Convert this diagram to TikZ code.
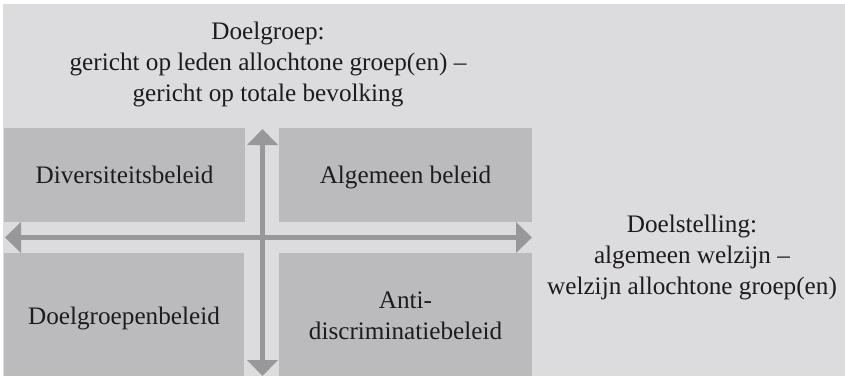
\documentclass[tikz,border=0pt]{standalone}
\usepackage{fontspec}
\setmainfont{Liberation Serif}
\usetikzlibrary{arrows.meta}
\definecolor{bgc}{HTML}{DCDCDE}
\definecolor{boxc}{HTML}{BBBBBD}
\definecolor{arrc}{HTML}{98989A}
\definecolor{inkc}{HTML}{1E1B1C}
\begin{document}
\begin{tikzpicture}[x=1pt,y=-1pt,
  quad/.style={fill=boxc, draw=none, inner sep=0pt, rectangle},
  lbl/.style={inner sep=0pt, align=center, text=inkc, font=\fontsize{25.2}{31}\selectfont},
  axisline/.style={draw=arrc, {Triangle[length=16pt,width=30pt]}-{Triangle[length=16pt,width=30pt]}}]
\useasboundingbox (0,0) rectangle (845,376);
\fill[white] (0,0) rectangle (845,376);
\fill[bgc] (3,4) rectangle (845,376);
% quadrants
\node[quad, minimum width=241pt, minimum height=94pt] (qdiv) at (124.5,175) {};
\node[quad, minimum width=253pt, minimum height=94pt] (qalg) at (405.5,175) {};
\node[quad, minimum width=240pt, minimum height=123pt] (qdoel) at (124,314.5) {};
\node[quad, minimum width=253pt, minimum height=123pt] (qanti) at (405.5,314.5) {};
% quadrant texts
\node[lbl] (tdiv) at (qdiv.center) [yshift=-2.1pt] {\strut Diversiteitsbeleid};
\node[lbl] (talg) at (qalg.center) [yshift=-2.1pt] {\strut Algemeen beleid};
\node[lbl] (tdoel) at (qdoel.center) [yshift=-3.6pt] {\strut Doelgroepenbeleid};
\node[lbl] (tanti) at (qanti.center) [yshift=-3.1pt] {\strut Anti-\\\strut discriminatiebeleid};
% axes
\coordinate (hl) at (5,237.5);
\coordinate (hr) at (532,237.5);
\coordinate (vt) at (262.5,129);
\coordinate (vb) at (262.5,376);
\draw[axisline, line width=4.5pt] (hl) -- (hr);
\draw[axisline, line width=5.5pt] (vt) -- (vb);
% axis labels
\node[lbl] (ltop) at (268,64.6) {\strut Doelgroep:\\\strut gericht op leden allochtone groep(en) –\\\strut gericht op totale bevolking};
\node[lbl] (lright) at (692,257) {\strut Doelstelling:\\\strut algemeen welzijn –\\\strut welzijn allochtone groep(en)};
\end{tikzpicture}
\end{document}
